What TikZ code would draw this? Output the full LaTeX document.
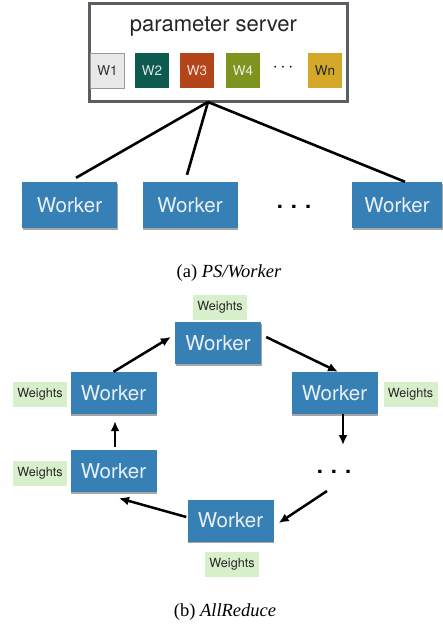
\documentclass[tikz,border=0pt]{standalone}
\usepackage{fontspec}
\setmainfont{Liberation Serif}
\newfontfamily\hv{TeX Gyre Heros}
\usetikzlibrary{arrows.meta,calc,shadows}
\definecolor{wblue}{HTML}{3780B6}
\definecolor{wtext}{HTML}{E8F0F6}
\definecolor{wgreen}{HTML}{D8EFCC}
\definecolor{psgray}{HTML}{5A5E63}
\definecolor{cW1}{HTML}{E8E8E8}
\definecolor{cW2}{HTML}{0D5A4E}
\definecolor{cW3}{HTML}{B4451A}
\definecolor{cW4}{HTML}{7E9420}
\definecolor{cWn}{HTML}{D4A828}
\tikzset{
  worker/.style={fill=wblue, text=wtext, inner sep=0pt, minimum width=95pt, minimum height=46pt,
    font=\hv\fontsize{20.5}{20.5}\selectfont,
    drop shadow={shadow xshift=0.8pt, shadow yshift=-1.8pt, opacity=0.35, fill=black}},
  rworker/.style={worker, minimum width=86pt, minimum height=42pt},
  wbox/.style={inner sep=0pt, minimum width=34pt, minimum height=35pt, font=\hv\fontsize{13.5}{13.5}\selectfont},
  weights/.style={fill=wgreen, text=black!85, inner sep=0pt, minimum width=54pt, minimum height=25pt,
    font=\hv\fontsize{12.6}{12.6}\selectfont},
  link/.style={line width=2.6pt, black},
  arr/.style={line width=2.5pt, black, -{Latex[length=10pt,width=9pt]}},
  dotsn/.style={inner sep=0pt, font=\hv\fontsize{22}{22}\selectfont\bfseries},
  caption/.style={inner sep=0pt, font=\fontsize{18.5}{18.5}\selectfont}
}
\begin{document}
\begin{tikzpicture}[x=1pt,y=-1pt]
\useasboundingbox (0,0) rectangle (442,624);
% ---------- (a) PS/Worker ----------
\node[draw=psgray, line width=3pt, fill=white, minimum width=258pt, minimum height=98pt, inner sep=0pt] (ps) at (218,52) {};
\node[inner sep=0pt, font=\hv\fontsize{22}{22}\selectfont, text=black!85] (pstitle) at (213.5,27) {parameter server};
\node[wbox, fill=cW1, draw=black!40, line width=0.6pt, text=black!80] (w1) at (107.5,70.5) {W1};
\node[wbox, fill=cW2, text=white!85!cW2] (w2) at (152,70.5) {W2};
\node[wbox, fill=cW3, text=white!85!cW3] (w3) at (197,70.5) {W3};
\node[wbox, fill=cW4, text=white!85!cW4] (w4) at (243,70.5) {W4};
\node[inner sep=0pt, font=\hv\fontsize{16}{16}\selectfont\bfseries] (wdots) at (283,68) {$\cdots$};
\node[wbox, fill=cWn, text=black!85] (wn) at (325,70.5) {Wn};

\node[worker] (pw1) at (69.5,205) {Worker};
\node[worker] (pw2) at (190,205) {Worker};
\node[worker, minimum width=90pt] (pw3) at (397,205) {Worker};
\node[dotsn] (pdots) at (294,207) {.\hspace{8pt}.\hspace{8pt}.};

\coordinate (apex) at (208,102);
\draw[link] (apex) -- ($(pw1.north)+(6.5,-4)$);
\draw[link] (apex) -- ($(pw2.north)+(-3,-7)$);
\draw[link] (apex) -- ($(pw3.north)+(8,0)$);

\node[caption] (capa) at (229,273) {(a) \textit{PS/Worker}};

% ---------- (b) AllReduce ----------
\node[rworker] (tw) at (218,343) {Worker};
\node[rworker] (lw) at (113.5,393) {Worker};
\node[rworker] (rw) at (334.5,393) {Worker};
\node[rworker] (blw) at (113.5,471) {Worker};
\node[rworker] (bw) at (230.5,520.5) {Worker};
\node[dotsn] (rdots) at (334,472) {.\hspace{8pt}.\hspace{8pt}.};

\node[weights] (wt) at (220,307.5) {Weights};
\node[weights] (wl) at (40,394.5) {Weights};
\node[weights] (wr) at (410.5,394.5) {Weights};
\node[weights] (wbl) at (40,473) {Weights};
\node[weights] (wb) at (232,564.5) {Weights};

\draw[arr] (lw.north) -- ($(tw.west)+(-4,-6)$);
\draw[arr] ($(tw.east)+(5,-6)$) -- ($(rw.north)+(3.5,0)$);
\draw[arr] ($(rw.south)+(8.5,0)$) -- ($(rdots.center)+(9,-27)$);
\draw[arr] ($(rdots.center)+(-7,19)$) -- ($(bw.east)+(5,2.5)$);
\draw[arr] ($(bw.west)+(-1,-3.5)$) -- ($(blw.south)+(5.5,6)$);
\draw[arr] ($(blw.north)+(1.5,-3)$) -- ($(lw.south)+(1.5,7)$);

\node[caption] (capb) at (225,612) {(b) \textit{AllReduce}};
\end{tikzpicture}
\end{document}
